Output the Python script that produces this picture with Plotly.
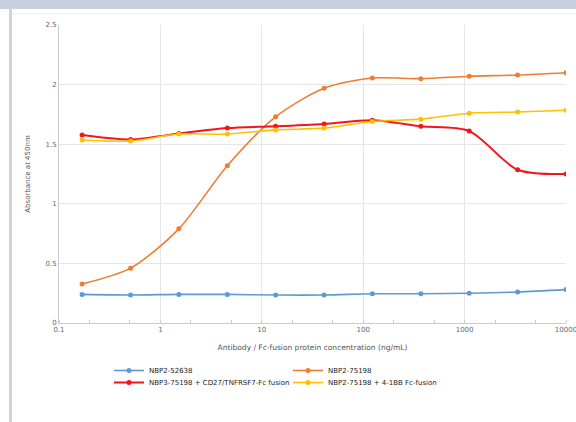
import plotly.graph_objects as go

conc = [0.169, 0.508, 1.52, 4.57, 13.7, 41.2, 123, 370, 1111, 3333, 10000]
blue_vals = [0.24, 0.235, 0.24, 0.24, 0.235, 0.235, 0.245, 0.245, 0.25, 0.26, 0.28]
orange_vals = [0.327, 0.46, 0.79, 1.32, 1.73, 1.97, 2.055, 2.05, 2.07, 2.08, 2.1]
red_vals = [1.577, 1.54, 1.59, 1.635, 1.65, 1.67, 1.70, 1.65, 1.61, 1.286, 1.25]
yellow_vals = [1.535, 1.527, 1.585, 1.585, 1.62, 1.635, 1.69, 1.71, 1.76, 1.77, 1.785]

names = ["NBP2-52638", "NBP2-75198", "NBP3-75198 + CD27/TNFRSF7-Fc fusion", "NBP2-75198 + 4-1BB Fc-fusion"]
colors = ["#5b9bd5", "#ed7d31", "#f2161b", "#ffc000"]
series = [blue_vals, orange_vals, red_vals, yellow_vals]
widths = [1.6, 1.6, 2, 1.6]
legends = ["legend", "legend", "legend2", "legend2"]

fig = go.Figure()
for n, c, v, w, lg in zip(names, colors, series, widths, legends):
    fig.add_trace(go.Scatter(
        x=conc, y=v, name=n, mode="lines+markers",
        line=dict(color=c, width=w, shape="spline", smoothing=0.8),
        marker=dict(color=c, size=5),
        legend=lg,
    ))

W, H = 576, 422
ml, mr, mt, mb = 59, 10, 25, 99
pw, ph = W - ml - mr, H - mt - mb

def px(x):
    return (x - ml) / pw

def py(y):
    return (H - mb - y) / ph

shapes = [
    dict(type="rect", xref="paper", yref="paper", x0=px(0), x1=px(W), y0=py(0), y1=py(9),
         fillcolor="#c8d0df", line=dict(width=0), layer="below"),
    dict(type="rect", xref="paper", yref="paper", x0=px(9), x1=px(12), y0=py(9), y1=py(H),
         fillcolor="#d4d4d4", line=dict(width=0), layer="below"),
    dict(type="line", xref="paper", yref="paper", x0=px(12), x1=px(W), y0=py(14), y1=py(14),
         line=dict(color="#eeeeee", width=1), layer="below"),
]

font_main = "DejaVu Sans, Verdana, sans-serif"
tick_font = dict(family=font_main, size=7, color="#666666")

fig.update_layout(
    width=W, height=H, autosize=False,
    margin=dict(l=ml, r=mr, t=mt, b=mb),
    paper_bgcolor="white", plot_bgcolor="white",
    font=dict(family=font_main, size=7, color="#333333"),
    shapes=shapes,
    xaxis=dict(
        type="log", range=[-1, 4], automargin=False,
        tickvals=[0.1, 1, 10, 100, 1000, 10000],
        ticktext=["0.1", "1", "10", "100", "1000", "10000"],
        showgrid=True, gridcolor="#e6e6e6", gridwidth=1,
        showline=True, linecolor="#cccccc", linewidth=1,
        ticks="", tickfont=tick_font, ticklabeloverflow="allow",
        minor=dict(ticks="inside", ticklen=3, tickcolor="#cccccc", showgrid=False),
        title=dict(text="Antibody / Fc-fusion protein concentration (ng/mL)",
                   font=dict(family=font_main, size=7.5, color="#555555"), standoff=11),
        zeroline=False,
    ),
    yaxis=dict(
        range=[0, 2.5], automargin=False,
        tickvals=[0, 0.5, 1, 1.5, 2, 2.5],
        ticktext=["0", "0.5", "1", "1.5", "2", "2.5"],
        showgrid=True, gridcolor="#e6e6e6", gridwidth=1,
        showline=True, linecolor="#cccccc", linewidth=1,
        ticks="", tickfont=tick_font,
        title=dict(text="Absorbance at 450nm",
                   font=dict(family=font_main, size=7, color="#555555"), standoff=14),
        zeroline=False,
    ),
    legend=dict(orientation="h", x=px(109), xanchor="left", y=py(356), yanchor="top",
                entrywidth=134, entrywidthmode="pixels", font=dict(size=7, color="#222222"),
                bgcolor="rgba(0,0,0,0)", itemwidth=30, tracegroupgap=0),
    legend2=dict(orientation="h", x=px(109), xanchor="left", y=py(368), yanchor="top",
                 entrywidth=134, entrywidthmode="pixels", font=dict(size=7, color="#222222"),
                 bgcolor="rgba(0,0,0,0)", itemwidth=30, tracegroupgap=0),
    showlegend=True,
)

fig.write_html("out.html", config={"displayModeBar": False, "responsive": False},
               post_script="document.documentElement.style.overflow='hidden';document.body.style.margin='0';document.body.style.overflow='hidden';")
